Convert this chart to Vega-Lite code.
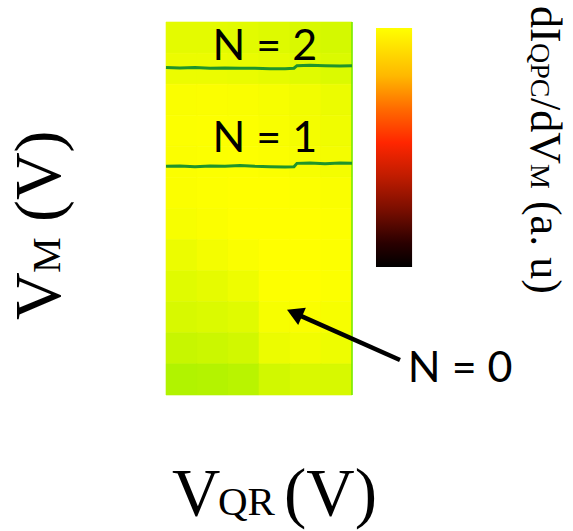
{
  "$schema": "https://vega.github.io/schema/vega-lite/v6.json",
  "width": 186,
  "height": 373,
  "autosize": "none",
  "padding": {"left": 166, "top": 22, "right": 221, "bottom": 136},
  "background": "white",
  "config": {"view": {"stroke": null}},
  "datasets": {
    "grid": [
      {"c":0,"r":0,"s":0.72},{"c":1,"r":0,"s":0.72},{"c":2,"r":0,"s":0.70},{"c":3,"r":0,"s":0.66},{"c":4,"r":0,"s":0.60},{"c":5,"r":0,"s":0.55},
      {"c":0,"r":1,"s":0.80},{"c":1,"r":1,"s":0.80},{"c":2,"r":1,"s":0.78},{"c":3,"r":1,"s":0.74},{"c":4,"r":1,"s":0.68},{"c":5,"r":1,"s":0.62},
      {"c":0,"r":2,"s":0.95},{"c":1,"r":2,"s":0.96},{"c":2,"r":2,"s":0.95},{"c":3,"r":2,"s":0.92},{"c":4,"r":2,"s":0.86},{"c":5,"r":2,"s":0.80},
      {"c":0,"r":3,"s":0.97},{"c":1,"r":3,"s":0.98},{"c":2,"r":3,"s":0.97},{"c":3,"r":3,"s":0.94},{"c":4,"r":3,"s":0.88},{"c":5,"r":3,"s":0.84},
      {"c":0,"r":4,"s":0.96},{"c":1,"r":4,"s":0.97},{"c":2,"r":4,"s":0.98},{"c":3,"r":4,"s":0.96},{"c":4,"r":4,"s":0.92},{"c":5,"r":4,"s":0.88},
      {"c":0,"r":5,"s":0.96},{"c":1,"r":5,"s":0.98},{"c":2,"r":5,"s":1.0},{"c":3,"r":5,"s":1.0},{"c":4,"r":5,"s":0.97},{"c":5,"r":5,"s":0.95},
      {"c":0,"r":6,"s":0.92},{"c":1,"r":6,"s":0.96},{"c":2,"r":6,"s":1.0},{"c":3,"r":6,"s":1.0},{"c":4,"r":6,"s":1.0},{"c":5,"r":6,"s":0.98},
      {"c":0,"r":7,"s":0.80},{"c":1,"r":7,"s":0.88},{"c":2,"r":7,"s":0.95},{"c":3,"r":7,"s":1.0},{"c":4,"r":7,"s":1.0},{"c":5,"r":7,"s":0.98},
      {"c":0,"r":8,"s":0.68},{"c":1,"r":8,"s":0.74},{"c":2,"r":8,"s":0.82},{"c":3,"r":8,"s":0.98},{"c":4,"r":8,"s":1.0},{"c":5,"r":8,"s":0.97},
      {"c":0,"r":9,"s":0.58},{"c":1,"r":9,"s":0.62},{"c":2,"r":9,"s":0.68},{"c":3,"r":9,"s":0.92},{"c":4,"r":9,"s":0.96},{"c":5,"r":9,"s":0.92},
      {"c":0,"r":10,"s":0.42},{"c":1,"r":10,"s":0.46},{"c":2,"r":10,"s":0.52},{"c":3,"r":10,"s":0.80},{"c":4,"r":10,"s":0.86},{"c":5,"r":10,"s":0.82},
      {"c":0,"r":11,"s":0.20},{"c":1,"r":11,"s":0.23},{"c":2,"r":11,"s":0.28},{"c":3,"r":11,"s":0.52},{"c":4,"r":11,"s":0.60},{"c":5,"r":11,"s":0.58}
    ],
    "lines": [
      {"N":2,"qr":0.0,"m":0.878},{"N":2,"qr":0.075,"m":0.877},{"N":2,"qr":0.156,"m":0.878},{"N":2,"qr":0.237,"m":0.876},{"N":2,"qr":0.317,"m":0.877},{"N":2,"qr":0.398,"m":0.876},{"N":2,"qr":0.478,"m":0.876},{"N":2,"qr":0.559,"m":0.875},{"N":2,"qr":0.640,"m":0.875},{"N":2,"qr":0.688,"m":0.876},{"N":2,"qr":0.704,"m":0.883},{"N":2,"qr":0.774,"m":0.884},{"N":2,"qr":0.855,"m":0.883},{"N":2,"qr":0.935,"m":0.882},{"N":2,"qr":1.0,"m":0.883},
      {"N":1,"qr":0.0,"m":0.613},{"N":1,"qr":0.075,"m":0.614},{"N":1,"qr":0.156,"m":0.612},{"N":1,"qr":0.237,"m":0.614},{"N":1,"qr":0.317,"m":0.613},{"N":1,"qr":0.398,"m":0.615},{"N":1,"qr":0.478,"m":0.613},{"N":1,"qr":0.559,"m":0.612},{"N":1,"qr":0.640,"m":0.611},{"N":1,"qr":0.688,"m":0.612},{"N":1,"qr":0.704,"m":0.621},{"N":1,"qr":0.774,"m":0.622},{"N":1,"qr":0.855,"m":0.620},{"N":1,"qr":0.935,"m":0.622},{"N":1,"qr":1.0,"m":0.621}
    ],
    "labels": [
      {"label":"N = 2","qr":0.25,"m":0.898},
      {"label":"N = 1","qr":0.25,"m":0.651},
      {"label":"N = 0","qr":1.30,"m":0.035}
    ],
    "arrow": [
      {"from_qr":1.258,"from_m":0.094,"to_qr":0.691,"to_m":0.2196}
    ],
    "colorbar": [
      {"qr0":1.129,"qr1":1.323,"m0":0.343,"m1":0.984}
    ]
  },
  "resolve": {"scale": {"x": "independent", "y": "independent"}},
  "layer": [
    {
      "data": {"name": "grid"},
      "mark": {"type": "rect", "strokeWidth": 0.6},
      "encoding": {
        "x": {"field": "c", "type": "ordinal", "axis": null, "scale": {"paddingInner": 0, "paddingOuter": 0}},
        "y": {"field": "r", "type": "ordinal", "axis": null, "scale": {"paddingInner": 0, "paddingOuter": 0}},
        "color": {"field": "s", "type": "quantitative", "legend": null, "scale": {"domain": [0, 1], "range": ["#9CEF00", "#FFFF00"]}},
        "stroke": {"field": "s", "type": "quantitative", "legend": null, "scale": {"domain": [0, 1], "range": ["#9CEF00", "#FFFF00"]}}
      }
    },
    {
      "layer": [
        {
          "data": {"values": [{"qr": 1, "m0": 0, "m1": 1}]},
          "mark": {"type": "rule", "color": "#72EA00", "strokeWidth": 1.5},
          "encoding": {
            "x": {"field": "qr", "type": "quantitative", "axis": null, "scale": {"domain": [0, 1], "nice": false, "zero": false}},
            "y": {"field": "m0", "type": "quantitative", "axis": null, "scale": {"domain": [0, 1], "nice": false, "zero": false}},
            "y2": {"field": "m1"}
          }
        },
        {
          "data": {"name": "lines"},
          "mark": {"type": "line", "color": "#1F942A", "strokeWidth": 3, "interpolate": "linear"},
          "encoding": {
            "x": {"field": "qr", "type": "quantitative", "axis": null},
            "y": {"field": "m", "type": "quantitative", "axis": null},
            "detail": {"field": "N", "type": "nominal"}
          }
        },
        {
          "data": {"name": "labels"},
          "mark": {"type": "text", "font": "Lato", "fontSize": 43, "align": "left", "baseline": "alphabetic", "color": "black"},
          "encoding": {
            "x": {"field": "qr", "type": "quantitative", "axis": null},
            "y": {"field": "m", "type": "quantitative", "axis": null},
            "text": {"field": "label"}
          }
        },
        {
          "data": {"name": "arrow"},
          "mark": {"type": "rule", "color": "black", "strokeWidth": 4.5},
          "encoding": {
            "x": {"field": "from_qr", "type": "quantitative", "axis": null},
            "y": {"field": "from_m", "type": "quantitative", "axis": null},
            "x2": {"field": "to_qr"},
            "y2": {"field": "to_m"}
          }
        },
        {
          "data": {"name": "arrow"},
          "mark": {"type": "point", "shape": "triangle-up", "filled": true, "color": "black", "opacity": 1, "size": 360, "angle": 294},
          "encoding": {
            "x": {"field": "to_qr", "type": "quantitative", "axis": null},
            "y": {"field": "to_m", "type": "quantitative", "axis": null}
          }
        },
        {
          "data": {"name": "colorbar"},
          "mark": {"type": "rect", "stroke": null, "color": {"gradient": "linear", "x1": 0, "y1": 0, "x2": 0, "y2": 1, "stops": [
            {"offset": 0, "color": "#FFFF00"},
            {"offset": 0.2, "color": "#FFB800"},
            {"offset": 0.34, "color": "#FF6A00"},
            {"offset": 0.48, "color": "#FF2600"},
            {"offset": 0.62, "color": "#C01C00"},
            {"offset": 0.76, "color": "#7A0E00"},
            {"offset": 0.9, "color": "#2A0000"},
            {"offset": 1, "color": "#000000"}
          ]}},
          "encoding": {
            "x": {"field": "qr0", "type": "quantitative", "axis": null},
            "x2": {"field": "qr1"},
            "y": {"field": "m0", "type": "quantitative", "axis": null},
            "y2": {"field": "m1"}
          }
        },
        {
          "data": {"values": [{"axis": "V_QR (V)", "qr": 0.032, "m": -0.322}]},
          "encoding": {
            "x": {"field": "qr", "type": "quantitative", "axis": null},
            "y": {"field": "m", "type": "quantitative", "axis": null}
          },
          "layer": [
            {"mark": {"type": "text", "text": "V", "font": "Liberation Serif", "fontSize": 67, "align": "left", "baseline": "alphabetic", "color": "black"}},
            {"mark": {"type": "text", "text": "QR", "font": "Liberation Serif", "fontSize": 41, "align": "left", "baseline": "alphabetic", "color": "black", "dx": 46}},
            {"mark": {"type": "text", "text": "(V)", "font": "Liberation Serif", "fontSize": 67, "align": "left", "baseline": "alphabetic", "color": "black", "dx": 112}}
          ]
        },
        {
          "data": {"values": [{"axis": "V_M (V)", "qr": -0.570, "m": 0.201}]},
          "encoding": {
            "x": {"field": "qr", "type": "quantitative", "axis": null},
            "y": {"field": "m", "type": "quantitative", "axis": null}
          },
          "layer": [
            {"mark": {"type": "text", "text": "V", "font": "Liberation Serif", "fontSize": 66, "angle": 270, "align": "left", "baseline": "alphabetic", "color": "black"}},
            {"mark": {"type": "text", "text": "M", "font": "Liberation Serif", "fontSize": 40, "angle": 270, "align": "left", "baseline": "alphabetic", "color": "black", "dx": 47}},
            {"mark": {"type": "text", "text": "(V)", "font": "Liberation Serif", "fontSize": 66, "angle": 270, "align": "left", "baseline": "alphabetic", "color": "black", "dx": 98}}
          ]
        },
        {
          "data": {"values": [{"axis": "dI_QPC/dV_M (a. u)", "qr": 1.962, "m": 1.043}]},
          "encoding": {
            "x": {"field": "qr", "type": "quantitative", "axis": null},
            "y": {"field": "m", "type": "quantitative", "axis": null}
          },
          "layer": [
            {"mark": {"type": "text", "text": "dI", "font": "Liberation Serif", "fontSize": 44, "angle": 90, "align": "left", "baseline": "alphabetic", "color": "black"}},
            {"mark": {"type": "text", "text": "QPC", "font": "Liberation Serif", "fontSize": 28, "angle": 90, "align": "left", "baseline": "alphabetic", "color": "black", "dx": 37}},
            {"mark": {"type": "text", "text": "/dV", "font": "Liberation Serif", "fontSize": 44, "angle": 90, "align": "left", "baseline": "alphabetic", "color": "black", "dx": 92}},
            {"mark": {"type": "text", "text": "M", "font": "Liberation Serif", "fontSize": 28, "angle": 90, "align": "left", "baseline": "alphabetic", "color": "black", "dx": 158}},
            {"mark": {"type": "text", "text": "(a. u)", "font": "Liberation Serif", "fontSize": 44, "angle": 90, "align": "left", "baseline": "alphabetic", "color": "black", "dx": 195}}
          ]
        }
      ]
    }
  ]
}
